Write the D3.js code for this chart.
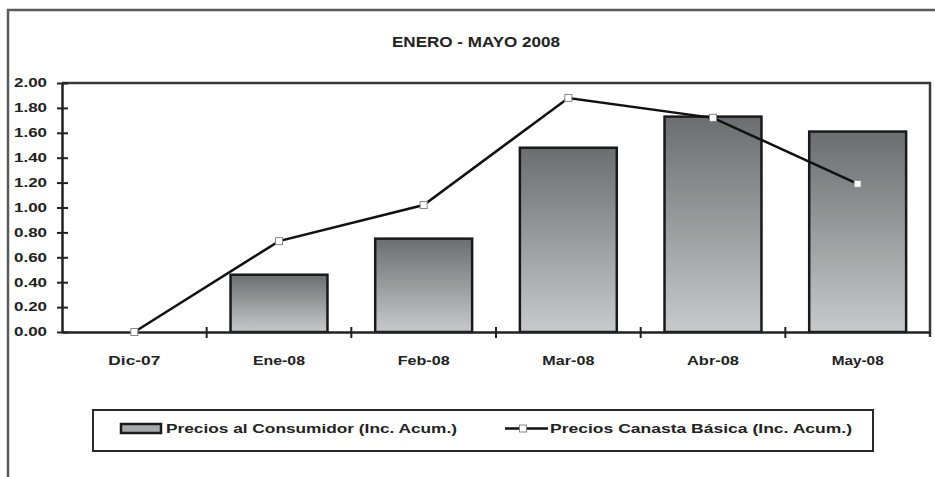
<!DOCTYPE html>
<html><head><meta charset="utf-8">
<script src="https://cdn.jsdelivr.net/npm/d3@7"></script>
<style>
html,body{margin:0;padding:0;background:#fff;}
svg{display:block;}
text{font-family:"Liberation Sans",Arial,sans-serif;font-weight:bold;fill:#222;}
</style></head>
<body>
<svg id="c" width="935" height="477"></svg>
<script>
const title = "ENERO - MAYO 2008";
const categories = ["Dic-07","Ene-08","Feb-08","Mar-08","Abr-08","May-08"];
const consumidor = [0, 0.46, 0.75, 1.48, 1.73, 1.61];
const canasta = [0, 0.73, 1.02, 1.88, 1.72, 1.19];
const yTicks = [0,0.2,0.4,0.6,0.8,1.0,1.2,1.4,1.6,1.8,2.0];
const legendLabels = ["Precios al Consumidor (Inc. Acum.)","Precios Canasta Básica (Inc. Acum.)"];

const svg = d3.select("#c");
const L = 62, R = 930, T = 83, B = 332;

// outer frame
svg.append("rect").attr("x",8).attr("y",10).attr("width",940).attr("height",480)
  .attr("fill","none").attr("stroke","#5a5a5a").attr("stroke-width",2.5);

const defs = svg.append("defs");
const g = defs.append("linearGradient").attr("id","bg").attr("x1",0).attr("y1",0).attr("x2",0).attr("y2",1);
g.append("stop").attr("offset","0%").attr("stop-color","#6c6d70");
g.append("stop").attr("offset","100%").attr("stop-color","#c8c9cb");

const x = d3.scaleBand().domain(categories).range([L,R]).paddingInner(0.33).paddingOuter(0.165);
const xb = d3.scaleBand().domain(categories).range([L,R]);
const y = d3.scaleLinear().domain([0,2]).range([B,T]);

svg.append("text").attr("x",476).attr("y",47).attr("text-anchor","middle")
  .attr("font-size",14).attr("textLength",168).attr("lengthAdjust","spacingAndGlyphs").text(title);

// plot border top/right
svg.append("path").attr("d",`M${L},${T}H${R}V${B+5}`).attr("fill","none")
  .attr("stroke","#3a3a3a").attr("stroke-width",2.5);

// bars
svg.selectAll("rect.bar").data(categories.map((c,i)=>({c,v:consumidor[i]})).filter(d=>d.v>0))
  .enter().append("rect").attr("class","bar")
  .attr("x",d=>x(d.c)).attr("width",x.bandwidth())
  .attr("y",d=>y(d.v)).attr("height",d=>y(0)-y(d.v))
  .attr("fill","url(#bg)").attr("stroke","#1a1a1a").attr("stroke-width",2.5);

// y axis
const ya = svg.append("g").attr("transform",`translate(${L},0)`)
  .call(d3.axisLeft(y).tickValues(yTicks).tickFormat(d3.format(".2f")).tickSizeInner(5).tickSizeOuter(0));
ya.select(".domain").attr("stroke","#222").attr("stroke-width",2.5);
ya.selectAll(".tick line").attr("stroke","#222").attr("stroke-width",2).attr("x2",6).attr("x1",-5);
ya.selectAll(".tick text").attr("x",-15).attr("font-size",12).attr("font-family","Liberation Sans, Arial")
  .attr("font-weight","bold").attr("fill","#222").attr("textLength",33).attr("lengthAdjust","spacingAndGlyphs");

// x axis
const xa = svg.append("g").attr("transform",`translate(0,${B})`)
  .call(d3.axisBottom(xb).tickSize(0).tickPadding(24));
xa.select(".domain").attr("stroke","#222").attr("stroke-width",2.5);
xa.selectAll(".tick text").attr("font-size",12).attr("font-family","Liberation Sans, Arial")
  .attr("font-weight","bold").attr("fill","#222").attr("textLength",52).attr("lengthAdjust","spacingAndGlyphs");
svg.selectAll("line.xt").data(categories.slice(1)).enter().append("line").attr("class","xt")
  .attr("x1",d=>xb(d)).attr("x2",d=>xb(d)).attr("y1",B-5).attr("y2",B+6)
  .attr("stroke","#222").attr("stroke-width",2);

// line
const pts = categories.map((c,i)=>[xb(c)+xb.bandwidth()/2, y(canasta[i])]);
svg.append("path").attr("d",d3.line()(pts)).attr("fill","none").attr("stroke","#111").attr("stroke-width",2.5);
svg.selectAll("rect.mk").data(pts).enter().append("rect").attr("class","mk")
  .attr("x",d=>d[0]-3.5).attr("y",d=>d[1]-3.5).attr("width",7).attr("height",7)
  .attr("fill","#fff").attr("stroke","#888").attr("stroke-width",1);

// legend
svg.append("rect").attr("x",93).attr("y",410).attr("width",780).attr("height",41)
  .attr("fill","#fff").attr("stroke","#2a2a2a").attr("stroke-width",2);
svg.append("rect").attr("x",121).attr("y",424).attr("width",40).attr("height",9)
  .attr("fill","#a8a9ab").attr("stroke","#1a1a1a").attr("stroke-width",2.5);
svg.append("text").attr("x",166).attr("y",433).attr("font-size",13)
  .attr("textLength",291).attr("lengthAdjust","spacingAndGlyphs").text(legendLabels[0]);
svg.append("line").attr("x1",505).attr("x2",548).attr("y1",428.5).attr("y2",428.5).attr("stroke","#111").attr("stroke-width",2.5);
svg.append("rect").attr("x",519.5).attr("y",425).attr("width",7).attr("height",7)
  .attr("fill","#fff").attr("stroke","#888").attr("stroke-width",1);
svg.append("text").attr("x",550).attr("y",433).attr("font-size",13)
  .attr("textLength",302).attr("lengthAdjust","spacingAndGlyphs").text(legendLabels[1]);
</script>
</body></html>
